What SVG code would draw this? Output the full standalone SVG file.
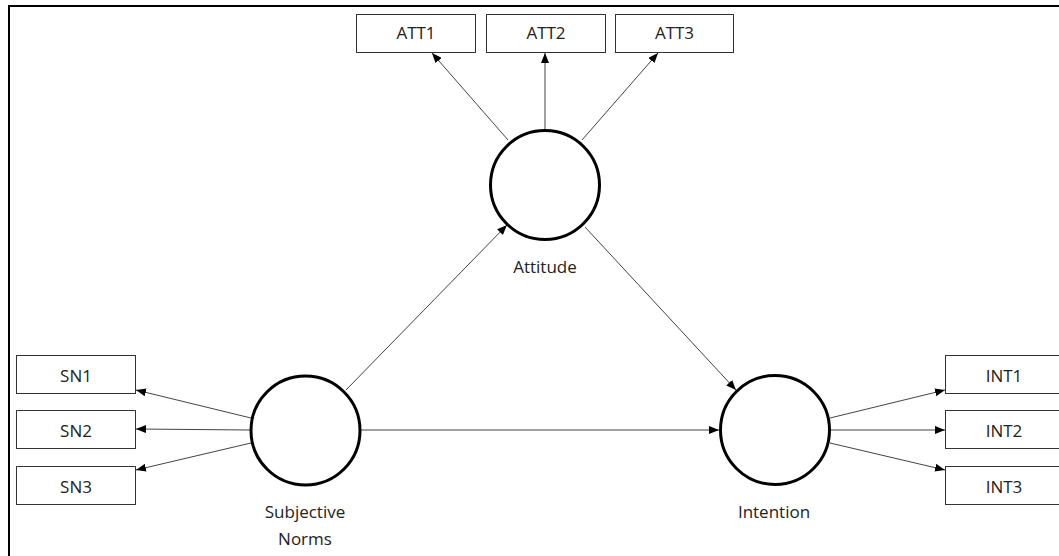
<svg xmlns="http://www.w3.org/2000/svg" width="1059" height="556" viewBox="0 0 1059 556">
<defs>
<style>
.box{fill:#fff;stroke:#333;stroke-width:1}
.lv{fill:#fff;stroke:#000;stroke-width:3}
.t{font-family:"Open Sans","Noto Sans","DejaVu Sans",sans-serif;font-size:17px;fill:#222;text-anchor:middle}
.c{stroke:#444;stroke-width:1;fill:none;marker-end:url(#ah)}
</style>
<marker id="ah" viewBox="0 0 10 8" refX="10" refY="4" markerWidth="10" markerHeight="8" markerUnits="userSpaceOnUse" orient="auto">
<path d="M0,0 L10,4 L0,8 Z" fill="#000"/>
</marker>
</defs>
<rect width="1059" height="556" fill="#fff"/>
<path d="M9,556 V6 H1059" fill="none" stroke="#000" stroke-width="2"/>
<g id="connectors">
<line class="c" x1="508" y1="140" x2="432" y2="53"/>
<line class="c" x1="545" y1="129" x2="545" y2="53"/>
<line class="c" x1="582" y1="140" x2="658" y2="53"/>
<line class="c" x1="251" y1="418" x2="136" y2="390"/>
<line class="c" x1="251" y1="430" x2="136" y2="429"/>
<line class="c" x1="251" y1="443" x2="136" y2="470"/>
<line class="c" x1="830" y1="418" x2="945" y2="390"/>
<line class="c" x1="830" y1="430" x2="945" y2="430"/>
<line class="c" x1="830" y1="443" x2="945" y2="470"/>
<line class="c" x1="346" y1="390" x2="507" y2="225"/>
<line class="c" x1="585" y1="227" x2="736" y2="390"/>
<line class="c" x1="361" y1="430" x2="719" y2="430"/>
</g>
<g id="ATT1"><rect class="box" x="356.5" y="14.5" width="119" height="38"/><text class="t" x="416" y="39">ATT1</text></g>
<g id="ATT2"><rect class="box" x="486.5" y="14.5" width="119" height="38"/><text class="t" x="546" y="39">ATT2</text></g>
<g id="ATT3"><rect class="box" x="615.5" y="14.5" width="118" height="38"/><text class="t" x="674.5" y="39">ATT3</text></g>
<g id="SN1"><rect class="box" x="16.5" y="355.5" width="119" height="38"/><text class="t" x="76" y="382">SN1</text></g>
<g id="SN2"><rect class="box" x="16.5" y="410.5" width="119" height="38"/><text class="t" x="76" y="437">SN2</text></g>
<g id="SN3"><rect class="box" x="16.5" y="466.5" width="119" height="38"/><text class="t" x="76" y="493">SN3</text></g>
<g id="INT1"><rect class="box" x="945.5" y="355.5" width="119" height="38"/><text class="t" x="1004" y="382">INT1</text></g>
<g id="INT2"><rect class="box" x="945.5" y="410.5" width="119" height="38"/><text class="t" x="1004" y="437">INT2</text></g>
<g id="INT3"><rect class="box" x="945.5" y="466.5" width="119" height="38"/><text class="t" x="1004" y="493">INT3</text></g>
<g id="Attitude"><circle class="lv" cx="545" cy="185" r="54.5"/><text class="t" x="545" y="273">Attitude</text></g>
<g id="SubjectiveNorms"><circle class="lv" cx="305.5" cy="430.5" r="54.5"/><text class="t" x="305" y="518">Subjective</text><text class="t" x="305" y="545">Norms</text></g>
<g id="Intention"><circle class="lv" cx="775" cy="430" r="54.5"/><text class="t" x="774" y="518">Intention</text></g>
</svg>
